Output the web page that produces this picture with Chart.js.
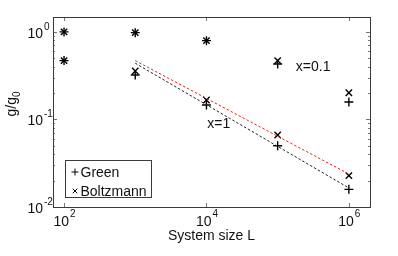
<!DOCTYPE html>
<html>
<head>
<meta charset="utf-8">
<script src="https://cdn.jsdelivr.net/npm/chart.js@4"></script>
<style>
  html, body { margin: 0; padding: 0; background: #fff; }
  #wrap { width: 398px; height: 256px; }
</style>
</head>
<body>
<div id="wrap"><canvas id="chart" width="398" height="256"></canvas></div>
<script>
// system sizes
const sizes = [1e2, 1e3, 1e4, 1e5, 1e6];

// x = 0.1
const green01 = [1.0, 0.98, 0.795, 0.43, 0.158];
const boltz01 = [1.0, 0.98, 0.795, 0.47, 0.202];
// x = 1
const green1 = [0.47, 0.322, 0.146, 0.050, 0.0159];
const boltz1 = [0.47, 0.358, 0.167, 0.0665, 0.0228];

// power-law fits drawn between L=1e3 and L=1e6
const fitSizes = [1e3, 1e6];
const fitGreen = [0.439, 0.0165];
const fitBoltz = [0.47, 0.0238];

const xTicks = [1e2, 1e4, 1e6];
const xTickExp = ['2', '4', '6'];
const yTicks = [1, 0.1, 0.01];
const yTickExp = ['0', '-1', '-2'];

const FONT = '"Liberation Sans", Arial, sans-serif';
const AXIS = '#3a3a3a';

function pts(xs, ys) {
    return xs.map((x, i) => ({ x: x, y: ys[i] }));
}

const marker = (data, style, r, label) => ({
    label: label,
    data: data,
    showLine: false,
    pointStyle: style,
    pointRadius: r,
    pointBorderColor: '#000',
    pointBorderWidth: 1.4,
    pointBackgroundColor: '#000'
});

const fitLine = (data, color) => ({
    data: data,
    showLine: true,
    borderColor: color,
    borderWidth: 1,
    borderDash: [2.5, 2],
    pointRadius: 0,
    fill: false
});

// axes box, inward ticks, labels, legend and annotations
const matlabAxes = {
    id: 'matlabAxes',
    afterDraw(chart) {
        const ctx = chart.ctx;
        const a = chart.chartArea;
        const xs = chart.scales.x, ys = chart.scales.y;
        ctx.save();

        // ticks
        ctx.strokeStyle = '#777';
        ctx.lineWidth = 1;
        ctx.beginPath();
        xTicks.forEach(v => {
            const px = Math.round(xs.getPixelForValue(v)) + 0.5;
            ctx.moveTo(px, a.bottom); ctx.lineTo(px, a.bottom - 4);
            ctx.moveTo(px, a.top); ctx.lineTo(px, a.top + 4);
        });
        yTicks.forEach(v => {
            const py = Math.round(ys.getPixelForValue(v)) + 0.5;
            ctx.moveTo(a.left, py); ctx.lineTo(a.left + 4, py);
            ctx.moveTo(a.right, py); ctx.lineTo(a.right - 4, py);
        });
        // minor y ticks
        [0.01, 0.1, 1].forEach(d => {
            for (let k = 2; k <= 9; k++) {
                const v = d * k;
                if (v > ys.max) break;
                const py = Math.round(ys.getPixelForValue(v)) + 0.5;
                ctx.moveTo(a.left, py); ctx.lineTo(a.left + 2, py);
                ctx.moveTo(a.right, py); ctx.lineTo(a.right - 2, py);
            }
        });
        ctx.stroke();

        // box
        ctx.strokeStyle = AXIS;
        ctx.strokeRect(Math.round(a.left) + 0.5, Math.round(a.top) + 0.5,
            Math.round(a.right - a.left), Math.round(a.bottom - a.top));

        // tick labels
        ctx.fillStyle = '#111';
        ctx.textBaseline = 'middle';
        xTicks.forEach((v, i) => {
            const px = xs.getPixelForValue(v);
            ctx.font = '14px ' + FONT;
            ctx.textAlign = 'right';
            ctx.fillText('10', px + 5, a.bottom + 15);
            ctx.font = '10px ' + FONT;
            ctx.textAlign = 'left';
            ctx.fillText(xTickExp[i], px + 6, a.bottom + 7);
        });
        yTicks.forEach((v, i) => {
            const py = ys.getPixelForValue(v);
            ctx.font = '14px ' + FONT;
            ctx.textAlign = 'right';
            ctx.fillText('10', a.left - 10, py + 2);
            ctx.font = '10px ' + FONT;
            ctx.textAlign = 'left';
            ctx.fillText(yTickExp[i], a.left - 9, py - 5);
        });

        // axis titles
        ctx.font = '14px ' + FONT;
        ctx.textAlign = 'center';
        ctx.fillText('System size L', (a.left + a.right) / 2, a.bottom + 29);

        ctx.save();
        ctx.translate(12, 104);
        ctx.rotate(-Math.PI / 2);
        ctx.textAlign = 'left';
        ctx.font = '14px ' + FONT;
        const w1 = ctx.measureText('g/g').width;
        ctx.font = '10px ' + FONT;
        const w2 = ctx.measureText('0').width;
        const x0 = -(w1 + w2) / 2;
        ctx.font = '14px ' + FONT;
        ctx.fillText('g/g', x0, 0);
        ctx.font = '10px ' + FONT;
        ctx.fillText('0', x0 + w1, 5);
        ctx.restore();

        // annotations
        ctx.font = '14px ' + FONT;
        ctx.textAlign = 'left';
        ctx.fillText('x=0.1', xs.getPixelForValue(1.8e5), ys.getPixelForValue(0.4));
        ctx.fillText('x=1', xs.getPixelForValue(1.03e4), ys.getPixelForValue(0.089));

        // legend
        const lx = 65.5, ly = 160.5, lw = 86, lh = 37;
        ctx.fillStyle = '#fff';
        ctx.fillRect(lx, ly, lw, lh);
        ctx.strokeStyle = AXIS;
        ctx.strokeRect(lx, ly, lw, lh);
        const items = [['cross', 3.5, 'Green'], ['crossRot', 3.2, 'Boltzmann']];
        items.forEach((it, i) => {
            const cy = ly + 11.5 + i * 19;
            ctx.strokeStyle = '#000';
            ctx.fillStyle = '#000';
            Chart.helpers.drawPoint(ctx, { pointStyle: it[0], radius: it[1], rotation: 0, borderWidth: 1 }, lx + 9.5, cy);
            ctx.fillStyle = '#111';
            ctx.font = '14px ' + FONT;
            ctx.textBaseline = 'middle';
            ctx.fillText(it[2], lx + 15, cy + 1);
        });

        ctx.restore();
    }
};

new Chart(document.getElementById('chart'), {
    type: 'scatter',
    data: {
        datasets: [
            fitLine(pts(fitSizes, fitBoltz), '#e8221c'),
            fitLine(pts(fitSizes, fitGreen), '#222'),
            marker(pts(sizes, green01), 'cross', 4.5, 'Green'),
            marker(pts(sizes, boltz01), 'crossRot', 4.5, 'Boltzmann'),
            marker(pts(sizes, green1), 'cross', 4.5, 'Green'),
            marker(pts(sizes, boltz1), 'crossRot', 4.5, 'Boltzmann')
        ]
    },
    options: {
        responsive: false,
        animation: false,
        layout: { padding: { left: 53, top: 17, right: 28, bottom: 49 } },
        plugins: { legend: { display: false }, tooltip: { enabled: false } },
        scales: {
            x: { type: 'logarithmic', min: 70, max: 1.98e6, display: false },
            y: { type: 'logarithmic', min: 0.01, max: 1.48, display: false }
        }
    },
    plugins: [matlabAxes]
});
</script>
</body>
</html>
